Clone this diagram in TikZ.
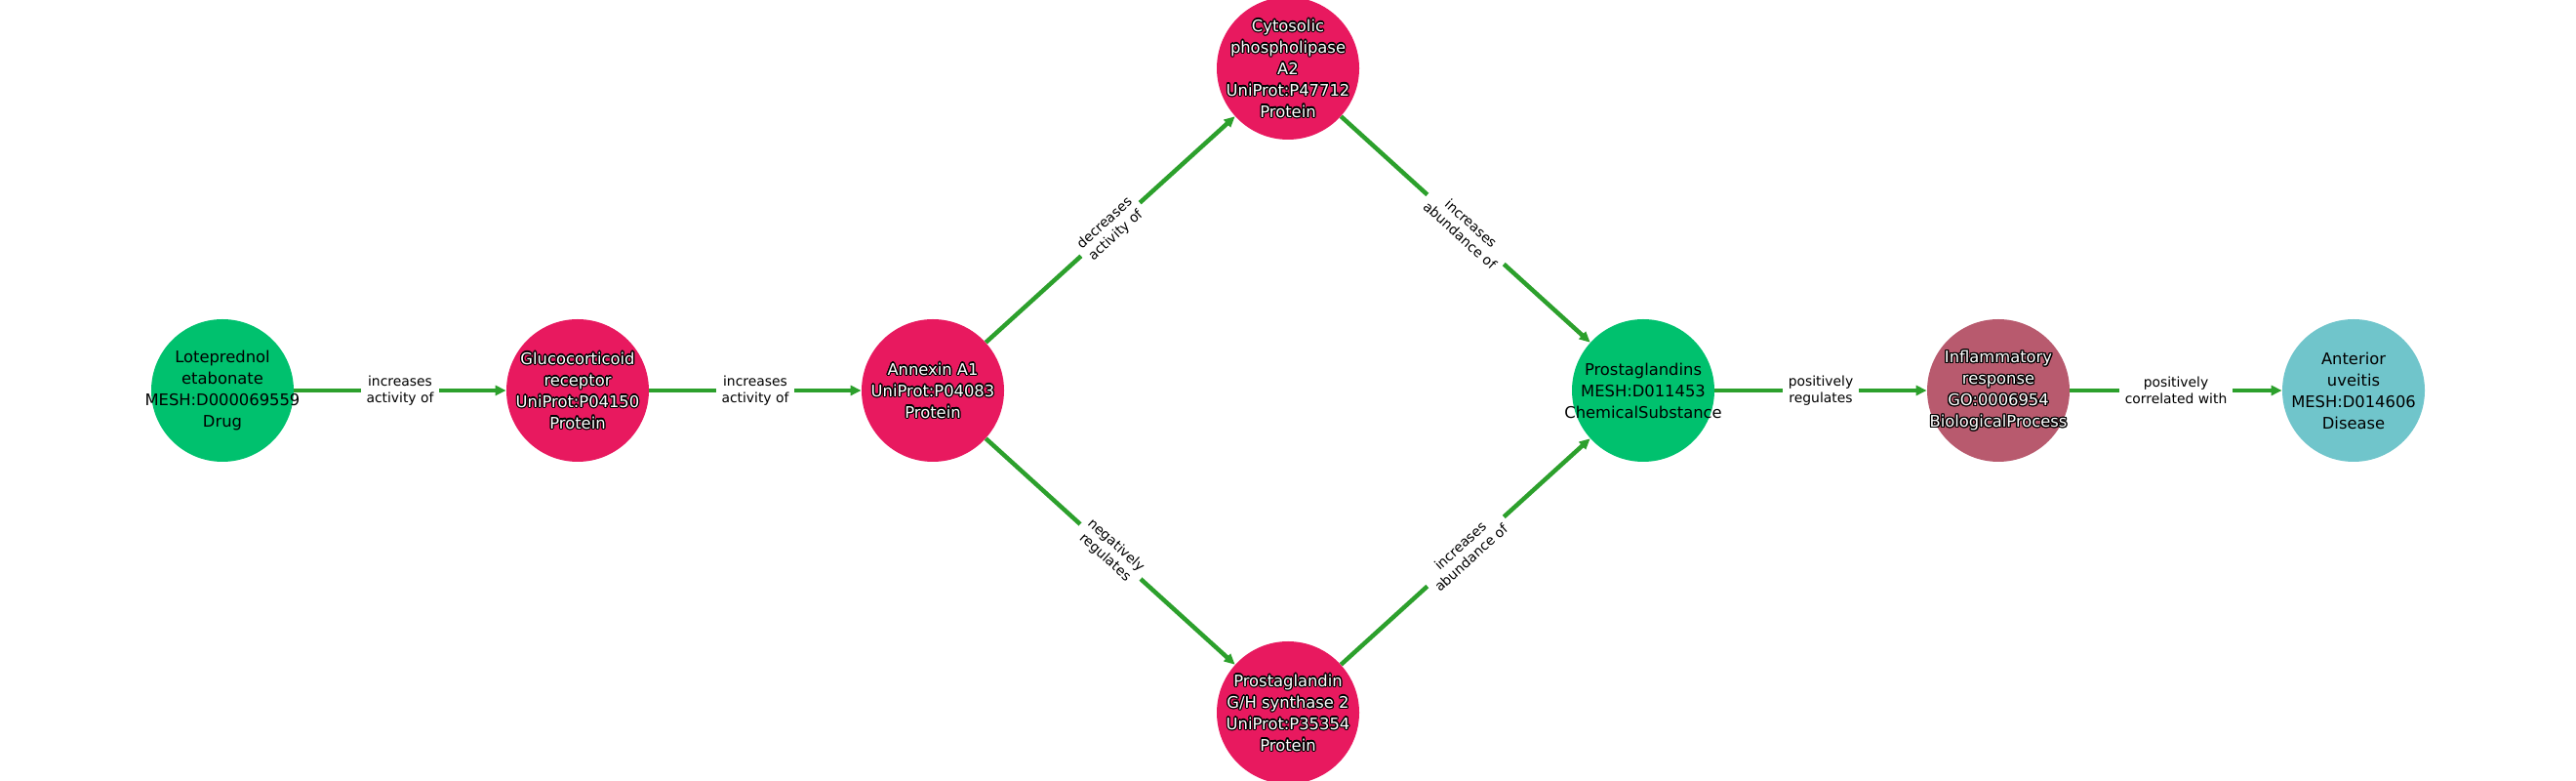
\documentclass[tikz,border=0pt]{standalone}
\usepackage{fontspec}
\setmainfont{DejaVu Sans}
\usepackage{xcolor}
\usepackage{tikz}
\usetikzlibrary{shapes.geometric}
\usetikzlibrary{arrows.meta}

\definecolor{drugcol}{HTML}{00C16E}
\definecolor{protcol}{HTML}{E8195F}
\definecolor{proccol}{HTML}{B85A6E}
\definecolor{discol}{HTML}{70C5CB}
\definecolor{edgecol}{HTML}{2CA02C}

% white text with a black rim
\newcommand\outlined[1]{{\setbox0\hbox{#1}%
  \foreach \a in {0,30,...,330}{%
    \pgfmathsetlengthmacro\hx{0.7pt*cos(\a)}%
    \pgfmathsetlengthmacro\hy{0.7pt*sin(\a)}%
    \rlap{\color{black}\kern\hx\raise\hy\copy0}}%
  \box0}}

\begin{document}
\begin{tikzpicture}
    \tikzstyle{entity}=[circle, inner sep=0pt, minimum size=2.92cm]
    \tikzstyle{etext}=[align=center, inner sep=0pt, font=\fontsize{9.3}{12.5}\selectfont]
    \tikzstyle{edge}=[draw=edgecol, line width=0.09cm,
    -{Triangle[length=0.22cm,width=0.2cm]}]
    \tikzstyle{elabel}=[fill=white, inner xsep=3pt, inner ysep=1.5pt, align=center,
    font=\fontsize{7.9}{9.5}\selectfont]

    \useasboundingbox (0,0) rectangle (52.8,16);

    \node[entity, fill=drugcol,
    label={[etext]center:Loteprednol\\etabonate\\MESH:D000069559\\Drug}](v1) at (4.56,8){};
    \node[entity, fill=protcol,
    label={[etext, text=white]center:\outlined{Glucocorticoid}\\\outlined{receptor}\\\outlined{UniProt:P04150}\\\outlined{Protein}}](v2) at (11.84,8){};
    \node[entity, fill=protcol,
    label={[etext, text=white]center:\outlined{Annexin A1}\\\outlined{UniProt:P04083}\\\outlined{Protein}}](v3) at (19.12,8){};
    \node[entity, fill=protcol,
    label={[etext, text=white]center:\outlined{Cytosolic}\\\outlined{phospholipase}\\\outlined{A2}\\\outlined{UniProt:P47712}\\\outlined{Protein}}](v4) at (26.4,14.6){};
    \node[entity, fill=protcol,
    label={[etext, text=white]center:\outlined{Prostaglandin}\\\outlined{G/H synthase 2}\\\outlined{UniProt:P35354}\\\outlined{Protein}}](v5) at (26.4,1.4){};
    \node[entity, fill=drugcol,
    label={[etext]center:Prostaglandins\\MESH:D011453\\ChemicalSubstance}](v6) at (33.68,8){};
    \node[entity, fill=proccol,
    label={[etext, text=white]center:\outlined{Inflammatory}\\\outlined{response}\\\outlined{GO:0006954}\\\outlined{BiologicalProcess}}](v7) at (40.96,8){};
    \node[entity, fill=discol,
    label={[etext]center:Anterior\\uveitis\\MESH:D014606\\Disease}](v8) at (48.24,8){};

    \draw[edge] (v1) -- node[elabel]{increases\\activity of} (v2);
    \draw[edge] (v2) -- node[elabel]{increases\\activity of} (v3);
    \draw[edge] (v3) -- node[elabel, sloped]{decreases\\activity of} (v4);
    \draw[edge] (v3) -- node[elabel, sloped]{negatively\\regulates} (v5);
    \draw[edge] (v4) -- node[elabel, sloped]{increases\\abundance of} (v6);
    \draw[edge] (v5) -- node[elabel, sloped]{increases\\abundance of} (v6);
    \draw[edge] (v6) -- node[elabel]{positively\\regulates} (v7);
    \draw[edge] (v7) -- node[elabel]{positively\\correlated with} (v8);
\end{tikzpicture}
\end{document}
